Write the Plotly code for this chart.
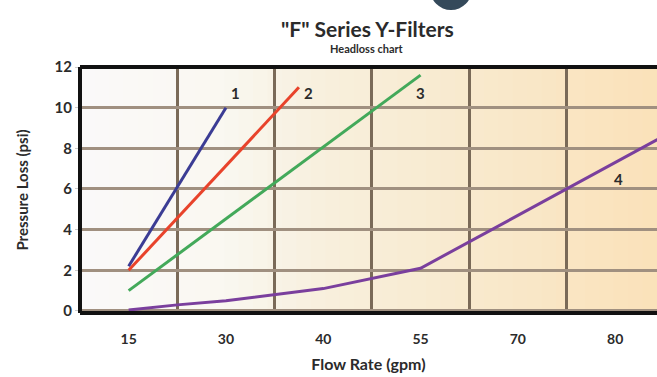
import numpy as np
import plotly.graph_objects as go

# ── Data ────────────────────────────────────────────────────────────────────
TICK_GPM = [15, 30, 40, 55, 70, 80]
TICK_LABELS = ["15", "30", "40", "55", "70", "80"]

FLOW_1 = [15, 30]
LOSS_1 = [2.2, 10.0]

FLOW_2 = [15, 37.5]
LOSS_2 = [2.0, 11.0]

FLOW_3 = [15, 55]
LOSS_3 = [1.0, 11.6]

FLOW_4 = [15, 22.5, 30, 40, 55, 70, 80, 85]
LOSS_4 = [0.05, 0.3, 0.5, 1.1, 2.1, 4.7, 7.3, 8.6]

SERIES = [
    ("1", FLOW_1, LOSS_1, "#3b3c94"),
    ("2", FLOW_2, LOSS_2, "#e8432b"),
    ("3", FLOW_3, LOSS_3, "#43a95a"),
    ("4", FLOW_4, LOSS_4, "#7a3f9d"),
]

LABEL_POS = {"1": (31, 10.7), "2": (38.5, 10.7), "3": (55, 10.7), "4": (80.3, 6.5)}

FONT = "Lato"
TXT = "#2b2b2b"

# plot box in pixels
W, H = 657, 377
L, R, T, B = 80, 0, 67, 64


def to_pos(gpm):
    """The printed chart spaces the flow ticks evenly, so map gpm piecewise."""
    gpm = np.asarray(gpm, dtype=float)
    idx = np.arange(len(TICK_GPM))
    pos = np.interp(gpm, TICK_GPM, idx)
    over = gpm > TICK_GPM[-1]
    pos[over] = idx[-1] + (gpm[over] - TICK_GPM[-1]) / (TICK_GPM[-1] - TICK_GPM[-2])
    return pos


def px_to_paper(px, py):
    return (px - L) / (W - L - R), (H - B - py) / (H - T - B)


X_RANGE = [-0.5, 5.43]
Y_RANGE = [-0.1, 12]

fig = go.Figure()

# background wash: near white on the left, warm cream on the right
anchors_x = [-0.5, 1.0, 2.0, 3.5, 5.43]
anchors_c = np.array([[250, 250, 250], [250, 248, 241], [248, 240, 221],
                      [249, 234, 206], [251, 226, 186]])
edges = np.linspace(X_RANGE[0], X_RANGE[1], 41)
shapes = []
for a, b in zip(edges[:-1], edges[1:]):
    m = (a + b) / 2
    c = [int(np.interp(m, anchors_x, anchors_c[:, k])) for k in range(3)]
    shapes.append(dict(type="rect", xref="x", yref="paper", x0=a, x1=b + 0.01,
                       y0=0, y1=1, line=dict(width=0),
                       fillcolor=f"rgb({c[0]},{c[1]},{c[2]})", layer="below"))

# heavy black frame (left, top, bottom)
for x0, y0, x1, y1 in [(0, 0, 0, 1), (0, 1, 1, 1), (0, 0, 1, 0)]:
    shapes.append(dict(type="line", xref="paper", yref="paper",
                       x0=x0, y0=y0, x1=x1, y1=y1,
                       line=dict(color="#111111", width=4)))

# dark badge peeking in at the top
cx0, cy0 = px_to_paper(430, 10)
cx1, cy1 = px_to_paper(472, -32)
shapes.append(dict(type="circle", xref="paper", yref="paper",
                   x0=cx0, x1=cx1, y0=cy0, y1=cy1,
                   fillcolor="#34495a", line=dict(width=0)))

for name, fx, fy, color in SERIES:
    fig.add_trace(go.Scatter(
        x=to_pos(fx), y=fy, mode="lines",
        line=dict(color=color, width=3),
        name=name, showlegend=False, hoverinfo="skip",
    ))

annotations = []
for name, (gx, gy) in LABEL_POS.items():
    annotations.append(dict(x=float(to_pos([gx])[0]), y=gy, text=name,
                            showarrow=False, xref="x", yref="y",
                            font=dict(family=FONT, size=15, color=TXT, weight="bold")))

tx, ty = px_to_paper(367, 28)
sx, sy = px_to_paper(367, 48)
annotations += [
    dict(x=tx, y=ty, xref="paper", yref="paper", xanchor="center", yanchor="middle",
         text='"F" Series Y-Filters', showarrow=False,
         font=dict(family=FONT, size=21, color=TXT, weight="bold")),
    dict(x=sx, y=sy, xref="paper", yref="paper", xanchor="center", yanchor="middle",
         text="Headloss chart", showarrow=False,
         font=dict(family=FONT, size=11, color=TXT, weight="bold")),
]

fig.update_layout(
    width=W, height=H,
    margin=dict(l=L, r=R, t=T, b=B, autoexpand=False),
    paper_bgcolor="white",
    plot_bgcolor="#fafafa",
    shapes=shapes,
    annotations=annotations,
    font=dict(family=FONT, color=TXT),
    xaxis=dict(
        range=X_RANGE, tickmode="array",
        tickvals=list(range(len(TICK_GPM))), ticktext=TICK_LABELS,
        showgrid=False, zeroline=False, showline=False, ticks="",
        ticklabelstandoff=16,
        tickfont=dict(family=FONT, size=14, color=TXT, weight="bold"),
        title=dict(text="Flow Rate (gpm)", standoff=12,
                   font=dict(family=FONT, size=16, color=TXT, weight="bold")),
        minor=dict(tickmode="array", tickvals=[0.5, 1.5, 2.5, 3.5, 4.5, 5.5],
                   showgrid=True, gridcolor="#7a6a58", gridwidth=2.5, ticks=""),
        fixedrange=True,
    ),
    yaxis=dict(
        range=Y_RANGE, tickvals=[0, 2, 4, 6, 8, 10, 12],
        showgrid=True, gridcolor="#a09080", gridwidth=3,
        zeroline=False, showline=False, ticks="outside", ticklen=4,
        tickcolor="#cccccc",
        tickfont=dict(family=FONT, size=15, color=TXT, weight="bold"),
        title=dict(text="Pressure Loss (psi)", standoff=22,
                   font=dict(family=FONT, size=15, color=TXT, weight="bold")),
        fixedrange=True,
    ),
)

fig.write_html("out.html", config={"displayModeBar": False},
               post_script="document.body.style.margin='0';")
